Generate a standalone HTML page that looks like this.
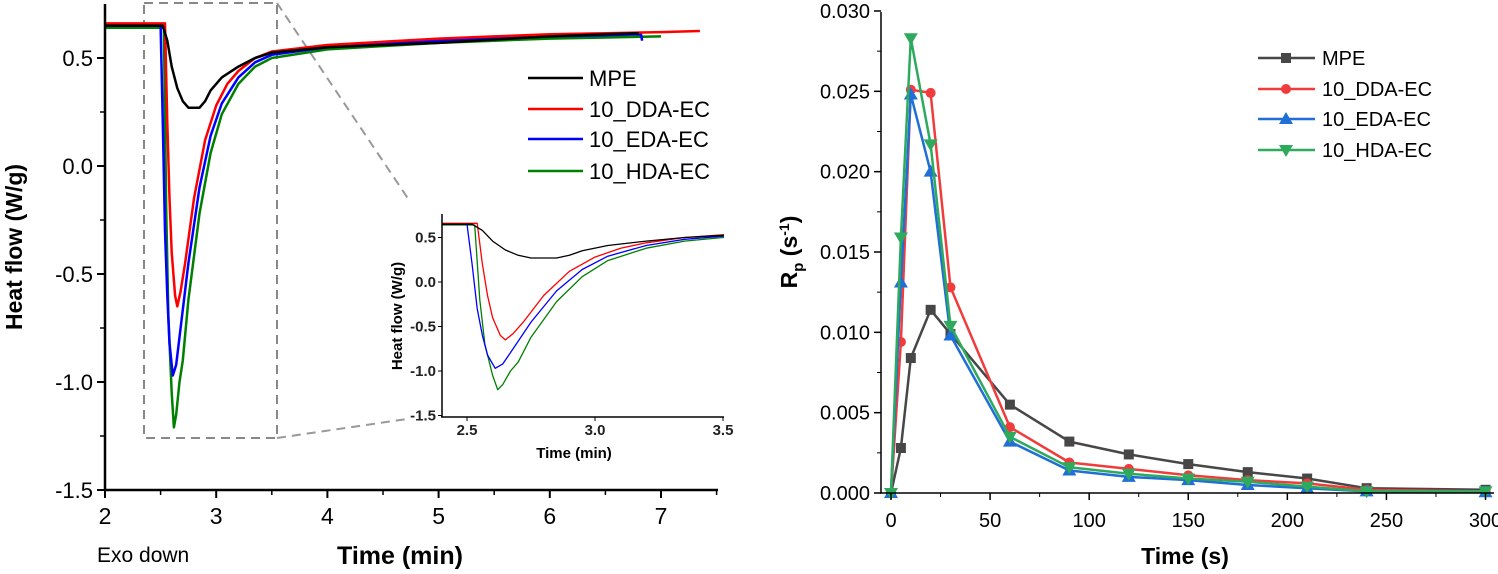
<!DOCTYPE html>
<html><head><meta charset="utf-8">
<style>
html,body{margin:0;padding:0;background:#fff;}
svg{display:block;font-family:"Liberation Sans",Arial,sans-serif;}
</style></head>
<body>
<svg id="fig" width="1498" height="574" viewBox="0 0 1498 574">
  <g id="left"></g>
  <g id="inset"></g>
  <g id="right"></g>
</svg>
<script>
// ---------- Left chart data ----------
const seriesNames = ["MPE","10_DDA-EC","10_EDA-EC","10_HDA-EC"];
const mpeT = [2,2.52,2.56,2.6,2.65,2.7,2.75,2.85,2.9,2.95,3.05,3.2,3.35,3.5,3.8,4,4.5,5,5.5,6,6.5,6.8];
const mpeV = [0.65,0.65,0.58,0.46,0.36,0.3,0.27,0.27,0.3,0.35,0.41,0.46,0.5,0.525,0.54,0.55,0.56,0.57,0.585,0.6,0.61,0.615];
const ddaT = [2,2.54,2.56,2.58,2.6,2.63,2.65,2.68,2.72,2.8,2.9,3.0,3.1,3.2,3.35,3.5,4,4.5,5,5.5,6,6.5,7,7.35];
const ddaV = [0.66,0.66,0.2,-0.15,-0.4,-0.6,-0.65,-0.58,-0.45,-0.15,0.12,0.28,0.38,0.44,0.5,0.53,0.56,0.575,0.59,0.6,0.61,0.615,0.62,0.625];
const edaT = [2,2.5,2.52,2.54,2.56,2.58,2.61,2.64,2.68,2.75,2.85,2.95,3.05,3.2,3.35,3.5,4,4.5,5,5.5,6,6.5,6.82,6.83];
const edaV = [0.65,0.65,0.2,-0.3,-0.6,-0.82,-0.97,-0.92,-0.75,-0.45,-0.1,0.14,0.29,0.41,0.48,0.515,0.55,0.565,0.58,0.59,0.6,0.605,0.61,0.58];
const hdaT = [2,2.53,2.55,2.57,2.6,2.62,2.64,2.67,2.7,2.75,2.85,2.95,3.05,3.2,3.35,3.5,4,4.5,5,5.5,6,6.5,7.0];
const hdaV = [0.64,0.64,-0.2,-0.7,-1.05,-1.21,-1.15,-1.0,-0.9,-0.62,-0.22,0.06,0.24,0.38,0.46,0.5,0.54,0.555,0.57,0.58,0.59,0.595,0.6];
const leftXTicks = [2,3,4,5,6,7];
const leftYTicks = [0.5,0.0,-0.5,-1.0,-1.5];
const insetXTicks = [2.5,3.0,3.5];
const insetYTicks = [0.5,0.0,-0.5,-1.0,-1.5];
const colorsL = ["#000000","#ff0000","#0000ff","#008000"];

// ---------- Right chart data ----------
const rpTime = [0,5,10,20,30,60,90,120,150,180,210,240,300];
const rpMPE = [0,0.0028,0.0084,0.0114,0.0099,0.0055,0.0032,0.0024,0.0018,0.0013,0.0009,0.0003,0.0002];
const rpDDA = [0,0.0094,0.0251,0.0249,0.0128,0.0041,0.0019,0.0015,0.0011,0.0008,0.0006,0.0002,0.0001];
const rpEDA = [0,0.0131,0.0248,0.0200,0.0098,0.0032,0.0014,0.0010,0.0008,0.0005,0.0003,0.0001,0.00005];
const rpHDA = [0,0.0159,0.0283,0.0217,0.0104,0.0035,0.0016,0.0012,0.0009,0.0007,0.0004,0.0001,0.0001];
const rightXTicks = [0,50,100,150,200,250,300];
const rightYTicks = [0,0.005,0.010,0.015,0.020,0.025,0.030];
const colorsR = ["#474747","#f03c3c","#1f6fd6","#2eaa5e"];

const NS="http://www.w3.org/2000/svg";
function mk(tag,attrs,parent,txt){const e=document.createElementNS(NS,tag);for(const k in attrs)e.setAttribute(k,attrs[k]);if(txt!==undefined)e.textContent=txt;parent.appendChild(e);return e;}

// ===== Left chart =====
const L=document.getElementById('left');
const lx=t=>105+(t-2)*111.2;
const ly=v=>166-v*216;
const lSeries=[[mpeT,mpeV],[ddaT,ddaV],[edaT,edaV],[hdaT,hdaV]];
let e=mk('rect',{x:144,y:3,width:133,height:435,fill:'none',stroke:'#888','stroke-width':2,'stroke-dasharray':'9,6'},L);

e=mk('line',{x1:277,y1:3,x2:409,y2:200,stroke:'#999','stroke-width':2,'stroke-dasharray':'9,6'},L);

e=mk('line',{x1:277,y1:438,x2:407,y2:419,stroke:'#999','stroke-width':2,'stroke-dasharray':'9,6'},L);

const drawOrder=[3,2,1,0];
drawOrder.forEach(i=>{
  const [T,V]=lSeries[i];
  const pts=T.map((t,j)=>lx(t).toFixed(1)+','+ly(V[j]).toFixed(1)).join(' ');
  const p=mk('polyline',{points:pts,fill:'none',stroke:colorsL[i],'stroke-width':2.5,'stroke-linejoin':'round'},L);
  
  
});
e=mk('line',{x1:105,y1:4,x2:105,y2:490,stroke:'#000','stroke-width':2.5},L);

e=mk('line',{x1:104,y1:490,x2:718,y2:490,stroke:'#000','stroke-width':2.5},L);

leftYTicks.forEach(v=>{
  mk('line',{x1:97,y1:ly(v),x2:105,y2:ly(v),stroke:'#000','stroke-width':2},L);
  const t=mk('text',{x:93,y:ly(v)+8,'text-anchor':'end','font-size':22},L,v.toFixed(1));
  
});
for(let v=0.25;v>-1.5;v-=0.5){mk('line',{x1:100,y1:ly(v),x2:105,y2:ly(v),stroke:'#000','stroke-width':1.5},L);}
leftXTicks.forEach(t=>{
  mk('line',{x1:lx(t),y1:490,x2:lx(t),y2:498,stroke:'#000','stroke-width':2},L);
  const tx=mk('text',{x:lx(t),y:524,'text-anchor':'middle','font-size':23},L,String(t));
  
});
for(let t=2.5;t<7.6;t+=1){mk('line',{x1:lx(t),y1:490,x2:lx(t),y2:495,stroke:'#000','stroke-width':1.5},L);}
e=mk('text',{x:0,y:0,transform:'translate(22,247) rotate(-90)','text-anchor':'middle','font-size':23,'font-weight':'bold'},L,'Heat flow (W/g)');

e=mk('text',{x:400,y:564,'text-anchor':'middle','font-size':25,'font-weight':'bold'},L,'Time (min)');

e=mk('text',{x:97,y:562,'font-size':21},L,'Exo down');

const legYL=[78,109,139,171];
seriesNames.forEach((n,i)=>{
  const g=mk('g',{},L);
  
  
  mk('line',{x1:528,y1:legYL[i],x2:583,y2:legYL[i],stroke:colorsL[i],'stroke-width':2.5},g);
  mk('text',{x:589,y:legYL[i]+8,'font-size':22},g,n);
});

// ===== Inset =====
const I=document.getElementById('inset');
const ix=t=>467+(t-2.5)*256;
const iy=v=>282-v*89;
const clipP=mk('clipPath',{id:'insetClip'},I);
mk('rect',{x:442,y:212,width:282,height:205},clipP);
const ig=mk('g',{'clip-path':'url(#insetClip)'},I);
drawOrder.forEach(i=>{
  const [T,V]=lSeries[i];
  const pts=T.map((t,j)=>ix(t).toFixed(1)+','+iy(V[j]).toFixed(1)).join(' ');
  const p=mk('polyline',{points:pts,fill:'none',stroke:colorsL[i],'stroke-width':1.3,'stroke-linejoin':'round'},ig);
  
  
});
e=mk('line',{x1:442,y1:214,x2:442,y2:417,stroke:'#000','stroke-width':1.5},I);

e=mk('line',{x1:441,y1:417,x2:724,y2:417,stroke:'#000','stroke-width':1.5},I);

insetYTicks.forEach(v=>{
  mk('line',{x1:438,y1:iy(v),x2:442,y2:iy(v),stroke:'#000','stroke-width':1},I);
  const t=mk('text',{x:436,y:iy(v)+5,'text-anchor':'end','font-size':15,'font-weight':'bold','fill':'#222'},I,v.toFixed(1));
  
});
insetXTicks.forEach(t=>{
  mk('line',{x1:ix(t),y1:417,x2:ix(t),y2:421,stroke:'#000','stroke-width':1},I);
  const tx=mk('text',{x:ix(t),y:435,'text-anchor':'middle','font-size':15,'font-weight':'bold','fill':'#222'},I,t.toFixed(1));
  
});
e=mk('text',{x:0,y:0,transform:'translate(402,316) rotate(-90)','text-anchor':'middle','font-size':15,'font-weight':'bold'},I,'Heat flow (W/g)');

e=mk('text',{x:574,y:458,'text-anchor':'middle','font-size':15,'font-weight':'bold'},I,'Time (min)');


// ===== Right chart =====
const R=document.getElementById('right');
const rx=t=>891+t*1.9817;
const ry=v=>493-v*16067;
const rSeries=[rpMPE,rpDDA,rpEDA,rpHDA];
function marker(g,k,x,y,c){
  if(k===0) return mk('rect',{x:x-5,y:y-5,width:10,height:10,fill:c},g);
  if(k===1) return mk('circle',{cx:x,cy:y,r:5,fill:c},g);
  if(k===2) return mk('polygon',{points:`${x},${y-7} ${x-7},${y+5} ${x+7},${y+5}`,fill:c},g);
  return mk('polygon',{points:`${x},${y+7} ${x-7},${y-5} ${x+7},${y-5}`,fill:c},g);
}
rSeries.forEach((vals,i)=>{
  const g=mk('g',{},R);
  
  
  const pts=rpTime.map((t,j)=>rx(t).toFixed(1)+','+ry(vals[j]).toFixed(1)).join(' ');
  mk('polyline',{points:pts,fill:'none',stroke:colorsR[i],'stroke-width':2.5,'stroke-linejoin':'round'},g);
  rpTime.forEach((t,j)=>{
    const m=marker(g,i,rx(t),ry(vals[j]),colorsR[i]);
    
    
  });
});
e=mk('line',{x1:881,y1:12,x2:881,y2:493,stroke:'#000','stroke-width':1.5},R);

e=mk('line',{x1:880,y1:493,x2:1494,y2:493,stroke:'#000','stroke-width':1.5},R);

rightYTicks.forEach(v=>{
  mk('line',{x1:874,y1:ry(v),x2:881,y2:ry(v),stroke:'#000','stroke-width':1.5},R);
  const t=mk('text',{x:870,y:ry(v)+7,'text-anchor':'end','font-size':20},R,v.toFixed(3));
  
});
for(let v=0.0025;v<0.03;v+=0.005){mk('line',{x1:877,y1:ry(v),x2:881,y2:ry(v),stroke:'#000','stroke-width':1},R);}
rightXTicks.forEach(t=>{
  mk('line',{x1:rx(t),y1:493,x2:rx(t),y2:500,stroke:'#000','stroke-width':1.5},R);
  const tx=mk('text',{x:rx(t),y:527,'text-anchor':'middle','font-size':20},R,String(t));
  
});
for(let t=25;t<300;t+=50){mk('line',{x1:rx(t),y1:493,x2:rx(t),y2:497,stroke:'#000','stroke-width':1},R);}
e=mk('text',{x:0,y:0,transform:'translate(797,252) rotate(-90)','text-anchor':'middle','font-size':23,'font-weight':'bold'},R);

mk('tspan',{},e,'R');
mk('tspan',{'font-size':15,dy:6},e,'p');
mk('tspan',{dy:-6},e,' (s');
mk('tspan',{'font-size':14,dy:-8},e,'-1');
mk('tspan',{dy:8},e,')');
e=mk('text',{x:1185,y:564,'text-anchor':'middle','font-size':23,'font-weight':'bold'},R,'Time (s)');

const legYR=[58,89,119,150];
seriesNames.forEach((n,i)=>{
  const g=mk('g',{},R);
  
  
  mk('line',{x1:1258,y1:legYR[i],x2:1315,y2:legYR[i],stroke:colorsR[i],'stroke-width':2.5},g);
  marker(g,i,1286,legYR[i],colorsR[i]);
  mk('text',{x:1322,y:legYR[i]+7,'font-size':20},g,n);
});
</script>
</body></html>
